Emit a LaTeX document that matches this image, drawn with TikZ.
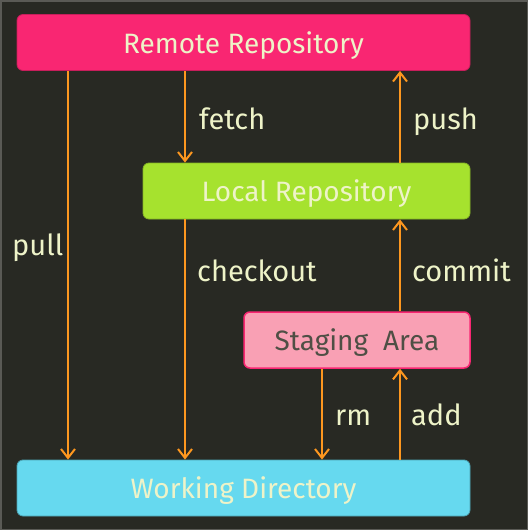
\documentclass[tikz,border=0pt]{standalone}
\usepackage{fontspec}
\setmainfont{Fira Sans}
\usetikzlibrary{arrows.meta}
\definecolor{bgdark}{HTML}{282923}
\definecolor{framegray}{HTML}{5A5A55}
\definecolor{remotepink}{HTML}{F92672}
\definecolor{localgreen}{HTML}{A6E22E}
\definecolor{stagepink}{HTML}{F9A0B4}
\definecolor{workblue}{HTML}{66D9EF}
\definecolor{flowyellow}{HTML}{FD971F}
\definecolor{creamtext}{HTML}{EEF3C8}
\definecolor{graytext}{HTML}{4F4F45}
\tikzset{%
  repo/.style  = {shape=rectangle, rounded corners=6pt,%
                  line width=0.8pt, align=center,%
                  minimum height=56pt, text=creamtext,%
                  text height=21pt, text depth=0pt,%
                  font=\fontsize{28}{32}\selectfont},%
  flow/.style  = {draw=flowyellow, line width=2pt,%
                  -{Straight Barb[length=9pt,width=14pt,line width=2pt]}},%
  cmd/.style   = {text=creamtext, font=\fontsize{29}{33}\selectfont,%
                  inner sep=0pt, anchor=base west}%
}
\begin{document}
\begin{tikzpicture}[x=1pt,y=-1pt]%
	\useasboundingbox (0,0) rectangle (528,530);
	\fill[bgdark] (0,0) rectangle (528,530);%
	\draw[framegray, line width=1.5pt] (0.75,0.75) rectangle (527.25,529.25);%
	% the four areas
	\node[repo, fill=remotepink, draw=remotepink!80!black,%
		minimum width=453pt] (remote) at (243.5,42.5) {Remote Repository};%
	\node[repo, fill=localgreen, draw=localgreen!80!black,%
		minimum width=327pt] (local) at (306.5,191) {Local Repository};%
	\node[repo, fill=stagepink, draw=remotepink, line width=1.5pt,%
		text=graytext, minimum width=226pt] (stage) at (357,340) {Staging\hspace{15pt}Area};%
	\node[repo, fill=workblue, draw=workblue!75!black,%
		minimum width=453pt] (work) at (243.5,488) {Working Directory};%
	% commands
	\node[cmd] (pull) at (12,255) {pull};%
	\node[cmd] (fetch) at (199,129) {fetch};%
	\node[cmd] (push) at (413,129) {push};%
	\node[cmd] (checkout) at (197,281) {checkout};%
	\node[cmd] (commit) at (412,281) {commit};%
	\node[cmd] (rm) at (335,425) {rm};%
	\node[cmd] (add) at (411,425) {add};%
	% arrows
	\draw[flow] (remote.south -| 68,0) -- (work.north -| 68,0);%
	\draw[flow] (remote.south -| 185,0) -- (local.north -| 185,0);%
	\draw[flow] (local.north -| 400,0) -- (remote.south -| 400,0);%
	\draw[flow] (local.south -| 185,0) -- (work.north -| 185,0);%
	\draw[flow] (stage.north -| 400,0) -- (local.south -| 400,0);%
	\draw[flow] (stage.south -| 322,0) -- (work.north -| 322,0);%
	\draw[flow] (work.north -| 400,0) -- (stage.south -| 400,0);%
\end{tikzpicture}
\end{document}
